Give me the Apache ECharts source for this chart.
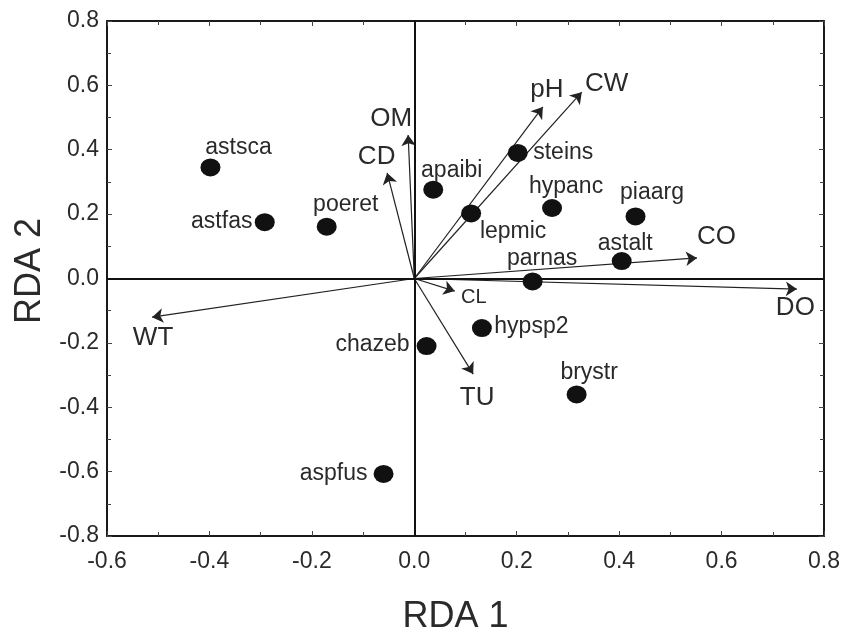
<!DOCTYPE html>
<html>
<head>
<meta charset="utf-8">
<script src="https://cdn.jsdelivr.net/npm/echarts@6/dist/echarts.min.js"></script>
<style>html,body{margin:0;padding:0;background:#fff}#c{width:846px;height:633px}</style>
</head>
<body>
<div id="c"></div>
<script>
// ---- data ----
const speciesNames = ['astsca','astfas','poeret','apaibi','steins','lepmic','hypanc','piaarg','astalt','parnas','chazeb','hypsp2','brystr','aspfus'];
const speciesX = [-0.398,-0.292,-0.171,0.037,0.202,0.111,0.269,0.432,0.405,0.231,0.024,0.132,0.317,-0.060];
const speciesY = [0.345,0.175,0.161,0.276,0.390,0.202,0.219,0.193,0.054,-0.009,-0.210,-0.154,-0.360,-0.607];
const envNames = ['pH','CW','OM','CD','CL','CO','DO','WT','TU'];
const envX = [0.251,0.327,-0.012,-0.053,0.079,0.552,0.747,-0.512,0.115];
const envY = [0.533,0.579,0.446,0.328,-0.039,0.064,-0.033,-0.120,-0.297];
const xTicks = [-0.6,-0.4,-0.2,0.0,0.2,0.4,0.6,0.8];
const yTicks = [-0.8,-0.6,-0.4,-0.2,0.0,0.2,0.4,0.6,0.8];

// ---- label placement (pixel offsets from the mark, style only) ----
const speciesLabelOffset = {
  astsca:[28,-20], astfas:[-43,-1], poeret:[19,-22], apaibi:[18.5,-19], steins:[45.5,0],
  lepmic:[42,18], hypanc:[14,-21], piaarg:[16.5,-24], astalt:[3.5,-17], parnas:[9.5,-23],
  chazeb:[-54,-1], hypsp2:[49.5,-1], brystr:[12.5,-22], aspfus:[-50,0]
};
const envLabelOffset = {
  pH:[4,-17.5], CW:[25,-8.5], OM:[-17,-16.5], CD:[-10.5,-16.5], CL:[19,6.5],
  CO:[19.5,-21.5], DO:[-1.5,18.5], WT:[1,21], TU:[4,24]
};

const txt = '#2a2a2a';
const font = 'Liberation Sans, Arial, sans-serif';

const speciesData = speciesNames.map((n,i)=>({
  name:n, value:[speciesX[i],speciesY[i]],
  label:{offset:speciesLabelOffset[n]}
}));
const arrowData = envNames.map((n,i)=>({coords:[[0,0],[envX[i],envY[i]]]}));
const envLabelData = envNames.map((n,i)=>({
  name:n, value:[envX[i],envY[i]],
  label:{offset:envLabelOffset[n], fontSize: n==='CL'?20:26}
}));

const axisCommon = {
  type:'value',
  axisLine:{show:true,onZero:false,lineStyle:{color:'#1a1a1a',width:2}},
  axisTick:{show:true,inside:true,length:5,lineStyle:{color:'#444',width:1}},
  minorTick:{show:true,splitNumber:2,length:4,lineStyle:{color:'#444',width:1}},
  splitLine:{show:false},
  axisLabel:{color:txt,fontSize:23,fontFamily:font,formatter:v=>v.toFixed(1)}
};

const chart = echarts.init(document.getElementById('c'));
chart.setOption({
  animation:false,
  backgroundColor:'#fff',
  grid:{left:107,right:22,top:21,bottom:97,containLabel:false,outerBoundsMode:'none'},
  xAxis:[
    Object.assign({},axisCommon,{position:'bottom',min:xTicks[0],max:xTicks[xTicks.length-1],interval:0.2,
      name:'RDA 1',nameLocation:'middle',nameGap:63,
      nameTextStyle:{fontSize:36,color:txt,fontFamily:font,padding:[0,20,0,0]},
      axisLabel:Object.assign({},axisCommon.axisLabel,{margin:14})}),
    Object.assign({},axisCommon,{position:'top',min:xTicks[0],max:xTicks[xTicks.length-1],interval:0.2,
      axisLabel:{show:false}})
  ],
  yAxis:[
    Object.assign({},axisCommon,{position:'left',min:yTicks[0],max:yTicks[yTicks.length-1],interval:0.2,
      name:'RDA 2',nameLocation:'middle',nameGap:59,nameRotate:90,
      nameTextStyle:{fontSize:36,color:txt,fontFamily:font,padding:[0,0,0,15]},
      axisLabel:Object.assign({},axisCommon.axisLabel,{margin:8})}),
    Object.assign({},axisCommon,{position:'right',min:yTicks[0],max:yTicks[yTicks.length-1],interval:0.2,
      axisLabel:{show:false}})
  ],
  series:[
    {
      type:'lines', coordinateSystem:'cartesian2d', z:3,
      symbol:['none','arrow'], symbolSize:[0,11],
      lineStyle:{color:'#222',width:1.2,opacity:1},
      data:arrowData,
      markLine:{silent:true,symbol:['none','none'],label:{show:false},
        lineStyle:{color:'#111',width:2,type:'solid'},
        data:[{xAxis:0},{yAxis:0}]}
    },
    {
      type:'scatter', z:5,
      symbol:'circle', symbolSize:[20,18],
      itemStyle:{color:'#111',opacity:1},
      label:{show:true,position:'inside',formatter:p=>p.name,color:txt,fontSize:23,fontFamily:font},
      data:speciesData
    },
    {
      type:'scatter', z:6, symbolSize:0, silent:true,
      itemStyle:{color:'#111',opacity:1},
      label:{show:true,position:'inside',formatter:p=>p.name,color:txt,fontFamily:font},
      data:envLabelData
    }
  ]
});
</script>
</body>
</html>
